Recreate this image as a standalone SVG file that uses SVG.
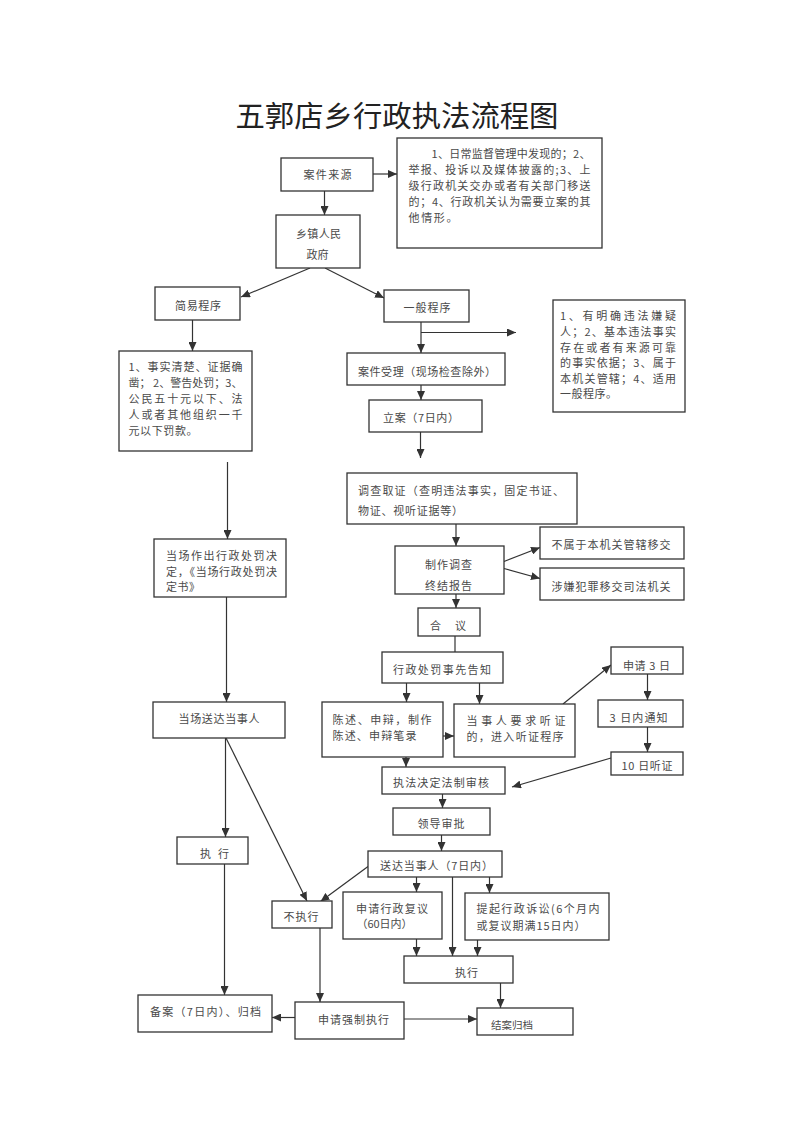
<svg xmlns="http://www.w3.org/2000/svg" width="800" height="1132" viewBox="0 0 800 1132">
<defs>
<marker id="ah" markerWidth="9" markerHeight="8" refX="9" refY="4" orient="auto" markerUnits="userSpaceOnUse">
<path d="M0,0 L9,4 L0,8 z" fill="#333"/>
</marker>
</defs>
<style>
rect{fill:#fff;stroke:#333;stroke-width:1.3}
text{font-family:"Noto Sans CJK SC","Liberation Sans",sans-serif;font-size:11px;fill:#4a4a4a;dominant-baseline:central}
.c{text-anchor:middle}
.title{font-size:29px;fill:#222;dominant-baseline:alphabetic}
#connectors line,#connectors path{stroke:#333;stroke-width:1.2;fill:none}
.ar{marker-end:url(#ah)}
</style>
<rect x="0" y="0" width="800" height="1132" style="fill:#fff;stroke:none"/>
<text class="title c" x="397" y="127" textLength="323" lengthAdjust="spacingAndGlyphs">五郭店乡行政执法流程图</text>

<g id="connectors">
<line class="ar" x1="373" y1="174" x2="397" y2="174"/>
<line class="ar" x1="324.5" y1="191" x2="324.5" y2="215"/>
<line class="ar" x1="310" y1="268" x2="241" y2="297"/>
<line class="ar" x1="325" y1="268" x2="384" y2="298"/>
<line class="ar" x1="192.5" y1="320" x2="192.5" y2="351"/>
<line class="ar" x1="227.5" y1="462" x2="227.5" y2="539"/>
<line class="ar" x1="226.5" y1="597" x2="226.5" y2="702"/>
<line class="ar" x1="225.5" y1="738" x2="225.5" y2="837"/>
<line class="ar" x1="226" y1="738" x2="307" y2="901"/>
<line class="ar" x1="224.5" y1="864" x2="224.5" y2="995"/>
<line class="ar" x1="421" y1="322" x2="421" y2="353"/>
<line class="ar" x1="421" y1="332.5" x2="516" y2="332.5"/>
<line class="ar" x1="421" y1="385" x2="421" y2="400"/>
<line class="ar" x1="420.5" y1="432" x2="420.5" y2="458"/>
<line class="ar" x1="456" y1="524" x2="456" y2="546"/>
<line class="ar" x1="504" y1="561.5" x2="540" y2="547.5"/>
<line class="ar" x1="504" y1="568.5" x2="540" y2="578.5"/>
<line class="ar" x1="456" y1="594" x2="456" y2="608"/>
<line x1="455" y1="636" x2="455" y2="652"/>
<line class="ar" x1="406.5" y1="683" x2="406.5" y2="702"/>
<line class="ar" x1="479.5" y1="683" x2="479.5" y2="704"/>
<line class="ar" x1="443" y1="736" x2="454" y2="736"/>
<line class="ar" x1="563" y1="704" x2="611" y2="665"/>
<line class="ar" x1="647.5" y1="674" x2="647.5" y2="700"/>
<line class="ar" x1="647.5" y1="727" x2="647.5" y2="752"/>
<line class="ar" x1="611" y1="758" x2="512" y2="787"/>
<line class="ar" x1="406" y1="757" x2="406" y2="767"/>
<line class="ar" x1="442.5" y1="794" x2="442.5" y2="808"/>
<line class="ar" x1="441.5" y1="835" x2="441.5" y2="851"/>
<line class="ar" x1="416.5" y1="877" x2="416.5" y2="892"/>
<line class="ar" x1="452.5" y1="877" x2="452.5" y2="956"/>
<line class="ar" x1="489.5" y1="877" x2="489.5" y2="893"/>
<line class="ar" x1="368" y1="866.5" x2="320.5" y2="901.5"/>
<line class="ar" x1="416.5" y1="939" x2="416.5" y2="956"/>
<line class="ar" x1="477.5" y1="940" x2="477.5" y2="956"/>
<line class="ar" x1="500.5" y1="983" x2="500.5" y2="1008"/>
<line class="ar" x1="320" y1="928" x2="320" y2="1002"/>
<line class="ar" x1="295" y1="1017.5" x2="272" y2="1017.5"/>
<line class="ar" x1="404" y1="1019" x2="477" y2="1019"/>
</g>

<g id="n_source"><rect x="281" y="158" width="92" height="33"/><text x="303.5" y="174" textLength="48">案件来源</text></g>
<g id="n_note1"><rect x="397" y="138" width="205" height="110"/>
<text x="431.5" y="153" textLength="159">1、日常监督管理中发现的；2、</text>
<text x="408.5" y="169" textLength="182">举报、投诉以及媒体披露的;3、上</text>
<text x="408.5" y="185" textLength="182">级行政机关交办或者有关部门移送</text>
<text x="408.5" y="201" textLength="182">的；4、行政机关认为需要立案的其</text>
<text x="408.5" y="217" textLength="49">他情形。</text></g>
<g id="n_gov"><rect x="276" y="215" width="84" height="53"/><text x="296" y="232.5" textLength="45">乡镇人民</text><text x="306.5" y="253.5" textLength="22">政府</text></g>
<g id="n_simple"><rect x="155" y="287" width="85" height="33"/><text x="175" y="305" textLength="46">简易程序</text></g>
<g id="n_general"><rect x="384" y="290" width="85" height="32"/><text x="403.5" y="306.5" textLength="47">一般程序</text></g>
<g id="n_simplecond"><rect x="119" y="351" width="133" height="100"/>
<text x="128.5" y="366" textLength="114">1、事实清楚、证据确</text>
<text x="128.5" y="382" textLength="114">凿； 2、警告处罚；3、</text>
<text x="128.5" y="398" textLength="114">公民五十元以下、法</text>
<text x="128.5" y="414" textLength="114">人或者其他组织一千</text>
<text x="128.5" y="430" textLength="69">元以下罚款。</text></g>
<g id="n_note2"><rect x="553" y="300" width="132" height="112"/>
<text x="560" y="315" textLength="116">1、有明确违法嫌疑</text>
<text x="560" y="331" textLength="116">人；2、基本违法事实</text>
<text x="560" y="347" textLength="116">存在或者有来源可靠</text>
<text x="560" y="362" textLength="116">的事实依据；3、属于</text>
<text x="560" y="377.5" textLength="116">本机关管辖；4、适用</text>
<text x="560" y="393" textLength="57">一般程序。</text></g>
<g id="n_accept"><rect x="347" y="353" width="158" height="32"/><text x="358" y="371" textLength="138">案件受理（现场检查除外）</text></g>
<g id="n_file"><rect x="369" y="400" width="113" height="32"/><text x="383" y="416.5" textLength="76">立案（7日内）</text></g>
<g id="n_invest"><rect x="347" y="473" width="230" height="51"/>
<text x="358" y="490" textLength="206">调查取证（查明违法事实，固定书证、</text>
<text x="358" y="510" textLength="105">物证、视听证据等）</text></g>
<g id="n_report"><rect x="395" y="546" width="109" height="48"/><text x="425" y="564" textLength="47">制作调查</text><text x="425" y="584.5" textLength="47">终结报告</text></g>
<g id="n_transfer"><rect x="540" y="527" width="144" height="32"/><text x="551.5" y="543.5" textLength="119">不属于本机关管辖移交</text></g>
<g id="n_crime"><rect x="540" y="568" width="144" height="32"/><text x="551.5" y="586" textLength="119">涉嫌犯罪移交司法机关</text></g>
<g id="n_discuss"><rect x="418" y="608" width="62" height="28"/><text x="430" y="625" textLength="36">合 议</text></g>
<g id="n_notice"><rect x="382" y="652" width="121" height="31"/><text x="393" y="668.5" textLength="98">行政处罚事先告知</text></g>
<g id="n_state"><rect x="322" y="702" width="121" height="55"/>
<text x="332.5" y="718.5" textLength="99">陈述、申辩，制作</text>
<text x="332.5" y="734.5" textLength="84">陈述、申辩笔录</text></g>
<g id="n_hearing"><rect x="454" y="704" width="121" height="53"/>
<text x="466.5" y="719.5" textLength="99">当事人要求听证</text>
<text x="466.5" y="736" textLength="97">的，进入听证程序</text></g>
<g id="n_apply3"><rect x="611" y="647" width="72" height="27"/><text x="623" y="665" textLength="47">申请 3 日</text></g>
<g id="n_notify3"><rect x="598" y="700" width="85" height="27"/><text x="609.5" y="716.5" textLength="58">3 日内通知</text></g>
<g id="n_hear10"><rect x="611" y="752" width="72" height="23"/><text x="621.5" y="765" textLength="51">10 日听证</text></g>
<g id="n_review"><rect x="382" y="767" width="123" height="27"/><text x="393" y="781.5" textLength="96">执法决定法制审核</text></g>
<g id="n_approve"><rect x="393" y="808" width="97" height="27"/><text x="417.5" y="822.5" textLength="47">领导审批</text></g>
<g id="n_deliver"><rect x="368" y="851" width="134" height="26"/><text x="380" y="864.5" textLength="113">送达当事人（7日内）</text></g>
<g id="n_recon"><rect x="343" y="892" width="99" height="47"/>
<text x="356" y="907.5" textLength="72">申请行政复议</text>
<text x="356.5" y="922.5" textLength="56">（60日内）</text></g>
<g id="n_suit"><rect x="465" y="893" width="144" height="47"/>
<text x="476.5" y="908" textLength="123">提起行政诉讼(6个月内</text>
<text x="476.5" y="924.5" textLength="109">或复议期满15日内）</text></g>
<g id="n_execR"><rect x="404" y="956" width="109" height="27"/><text x="455" y="971.5" textLength="23">执行</text></g>
<g id="n_close"><rect x="477" y="1008" width="96" height="27"/><text class="c" x="512" y="1024" style="font-size:10.5px">结案归档</text></g>
<g id="n_force"><rect x="295" y="1002" width="109" height="37"/><text x="318" y="1018.5" textLength="71">申请强制执行</text></g>
<g id="n_record"><rect x="138" y="995" width="134" height="37"/><text x="150" y="1010.5" textLength="111">备案（7日内）、归档</text></g>
<g id="n_noexec"><rect x="272" y="901" width="60" height="27"/><text x="283.5" y="916" textLength="35">不执行</text></g>
<g id="n_execL"><rect x="177" y="837" width="71" height="27"/><text x="200" y="852.5" textLength="29">执 行</text></g>
<g id="n_onsite"><rect x="154" y="539" width="132" height="58"/>
<text x="166" y="555" textLength="111">当场作出行政处罚决</text>
<text x="166" y="570.5" textLength="111">定，《当场行政处罚决</text>
<text x="166" y="586" textLength="34">定书》</text></g>
<g id="n_deliverL"><rect x="153" y="702" width="132" height="36"/><text x="178.5" y="717.5" textLength="81">当场送达当事人</text></g>
</svg>
